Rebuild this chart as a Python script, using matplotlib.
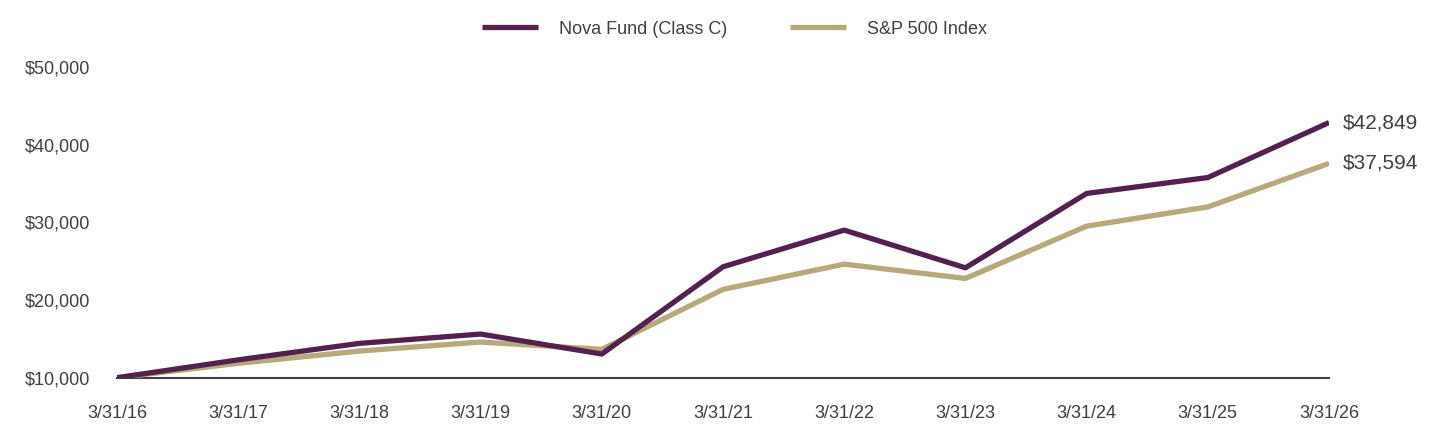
import matplotlib
matplotlib.use('Agg')
import matplotlib.pyplot as plt
from matplotlib.ticker import FuncFormatter

plt.rcParams['font.family'] = ['Liberation Sans Narrow', 'Liberation Sans', 'DejaVu Sans']

# data
dates = ['3/31/16', '3/31/17', '3/31/18', '3/31/19', '3/31/20', '3/31/21',
         '3/31/22', '3/31/23', '3/31/24', '3/31/25', '3/31/26']
nova = [10000, 12300, 14420, 15620, 13050, 24280, 29000, 24150, 33720, 35770, 42849]
sp500 = [10000, 11850, 13430, 14590, 13650, 21370, 24620, 22780, 29510, 31990, 37594]
yticks = [10000, 20000, 30000, 40000, 50000]

nova_color = '#54214E'
sp_color = '#B8A97A'
text_color = '#404040'

fig = plt.figure(figsize=(14.4, 4.44), dpi=100)
ax = fig.add_axes([0.08125, 0.1493, 0.8417, 0.6998])

x = list(range(len(dates)))
ax.plot(x, nova, color=nova_color, lw=3.8, label='Nova Fund (Class C)', solid_capstyle='butt', zorder=3)
ax.plot(x, sp500, color=sp_color, lw=3.8, label='S&P 500 Index', solid_capstyle='butt', zorder=2)

ax.set_xlim(0, len(dates) - 1)
ax.set_ylim(10000, 50000)
ax.set_xticks(x)
ax.set_xticklabels(dates)
ax.set_yticks(yticks)
ax.yaxis.set_major_formatter(FuncFormatter(lambda v, p: '${:,.0f}'.format(v)))

for s in ['top', 'right', 'left']:
    ax.spines[s].set_visible(False)
ax.spines['bottom'].set_color(text_color)
ax.spines['bottom'].set_linewidth(1.5)
ax.spines['bottom'].set_zorder(1)
ax.tick_params(axis='both', length=0, labelsize=13, colors=text_color)
ax.tick_params(axis='x', pad=20)
ax.tick_params(axis='y', pad=19)

# end labels
ax.annotate('${:,.0f}'.format(nova[-1]), xy=(x[-1], nova[-1]), xytext=(10, 0),
            textcoords='offset points', va='center', ha='left', fontsize=15,
            color=text_color, annotation_clip=False)
ax.annotate('${:,.0f}'.format(sp500[-1]), xy=(x[-1], sp500[-1]), xytext=(10, 0),
            textcoords='offset points', va='center', ha='left', fontsize=15,
            color=text_color, annotation_clip=False)

fig.legend(loc='center', bbox_to_anchor=(0.51, 0.934), ncol=2, frameon=False,
           fontsize=13, handlelength=3.1, columnspacing=3.5, handletextpad=1.15,
           labelcolor=text_color)

fig.savefig('out.png', dpi=100)
